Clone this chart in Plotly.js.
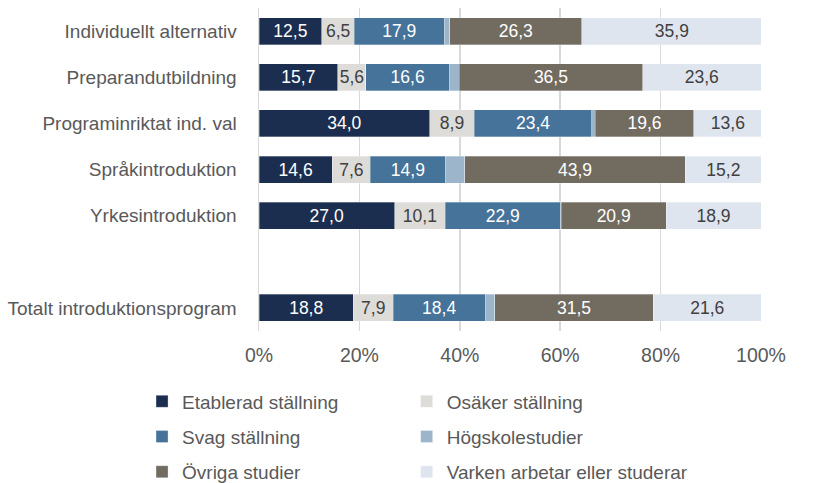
<!DOCTYPE html>
<html><head><meta charset="utf-8">
<script src="https://cdn.plot.ly/plotly-3.0.1.min.js"></script>
<style>html,body{margin:0;padding:0;background:#fff}#chart{width:838px;height:483px}</style>
</head><body><div id="chart"></div>
<script>
var categories = ["Individuellt alternativ","Preparandutbildning","Programinriktat ind. val","Språkintroduktion","Yrkesintroduktion"," ","Totalt introduktionsprogram"];
var etablerad = [12.5, 15.7, 34.0, 14.6, 27.0, null, 18.8];
var osaker    = [6.5, 5.6, 8.9, 7.6, 10.1, null, 7.9];
var svag      = [17.9, 16.6, 23.4, 14.9, 22.9, null, 18.4];
var hogskole  = [1.1, 2.0, 0.7, 3.9, 0.2, null, 1.9];
var ovriga    = [26.3, 36.5, 19.6, 43.9, 20.9, null, 31.5];
var varken    = [35.9, 23.6, 13.6, 15.2, 18.9, null, 21.6];
var seriesNames = ["Etablerad ställning","Osäker ställning","Svag ställning","Högskolestudier","Övriga studier","Varken arbetar eller studerar"];
var seriesValues = [etablerad, osaker, svag, hogskole, ovriga, varken];
var colors = ["#1c2e4f","#dedcd8","#467399","#9db5ca","#716b60","#dfe5ee"];
var textColors = ["#ffffff","#404040","#ffffff","#404040","#ffffff","#404040"];
var showLabels = [true,true,true,false,true,true];
var legendFor = ["legend","legend2","legend","legend2","legend","legend2"];

var FONT = 'Liberation Sans, Arial, sans-serif';
var traces = seriesValues.map(function(vals,i){
  return {
    type:'bar', orientation:'h', name: seriesNames[i],
    y: categories, x: vals,
    marker:{color:colors[i], line:{color:'rgba(255,255,255,0.6)', width:0.5}},
    texttemplate: showLabels[i] ? '%{x:.1f}' : '',
    textposition: showLabels[i] ? 'inside' : 'none',
    insidetextanchor:'middle', constraintext:'none',
    textfont:{family:FONT, size:17.5, color:textColors[i]},
    insidetextfont:{family:FONT, size:17.5, color:textColors[i]},
    legend: legendFor[i], legendgroup: 'g'+i,
    hoverinfo:'x+name'
  };
});

var legendCommon = {
  orientation:'v', yanchor:'top', xanchor:'left', xref:'container', yref:'container',
  font:{family:FONT, size:19, color:'#595959'},
  tracegroupgap:7.5, bgcolor:'rgba(0,0,0,0)', itemwidth:30
};
var layout = {
  width:838, height:483,
  margin:{l:259, r:77, t:8, b:152, autoexpand:false},
  barmode:'stack', bargap:0.415,
  separators:', ',
  paper_bgcolor:'#ffffff', plot_bgcolor:'#ffffff',
  font:{family:FONT, color:'#595959'},
  xaxis:{range:[0,100], tickvals:[0,20,40,60,80,100], ticktext:['0%','20%','40%','60%','80%','100%'],
    showgrid:true, gridcolor:'#d9d9d9', gridwidth:1.5, zeroline:false, showline:false,
    ticklabelstandoff:10, tickfont:{size:19.5, color:'#595959'}, fixedrange:true, automargin:false},
  yaxis:{type:'category', categoryorder:'array', categoryarray:categories, autorange:'reversed',
    showgrid:false, zeroline:false, showline:true, linecolor:'#d9d9d9', linewidth:1.5,
    ticks:'', ticklabelstandoff:17, tickfont:{size:19, color:'#595959'}, fixedrange:true, automargin:false},
  legend: Object.assign({x:0.1695, y:0.2081}, legendCommon),
  legend2: Object.assign({x:0.4853, y:0.2081}, legendCommon),
  showlegend:true
};
Plotly.newPlot('chart', traces, layout, {displayModeBar:false, staticPlot:true});
</script></body></html>
